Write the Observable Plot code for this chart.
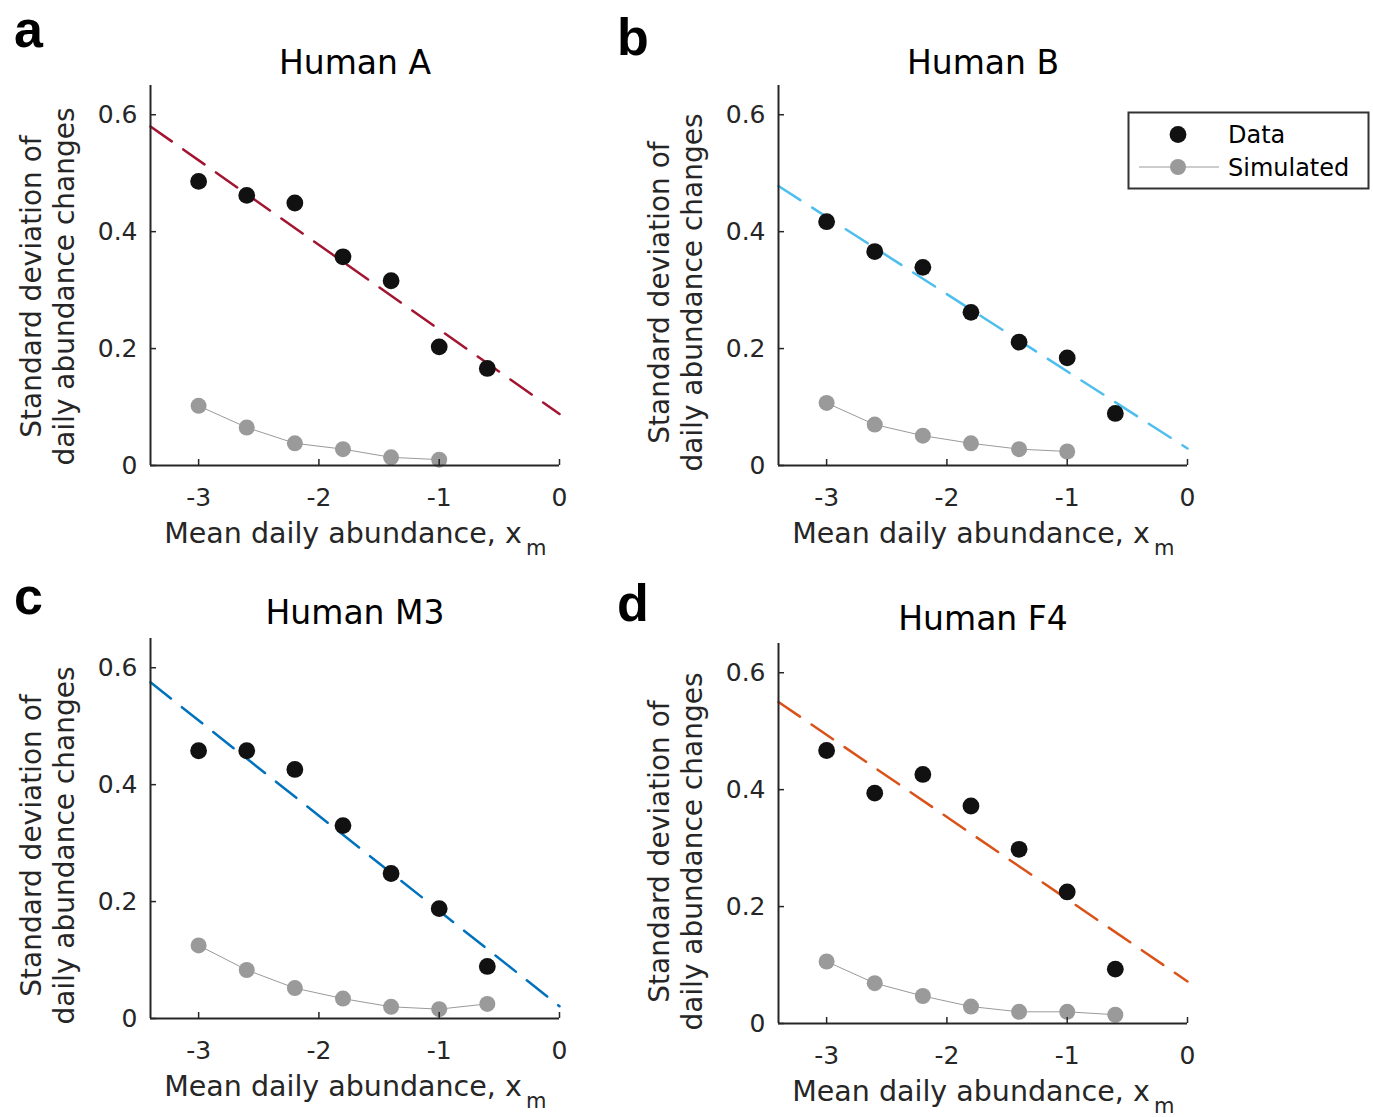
<!DOCTYPE html>
<html>
<head>
<meta charset="utf-8">
<script src="https://cdn.jsdelivr.net/npm/d3@7"></script>
<script src="https://cdn.jsdelivr.net/npm/@observablehq/plot@0.6"></script>
<style>
  body { margin: 0; background: #fff; }
  #fig { position: relative; width: 1373px; height: 1117px; overflow: hidden; background: #fff; }
  .panel { position: absolute; }
  .overlay { position: absolute; left: 0; top: 0; pointer-events: none; }
</style>
</head>
<body>
<div id="fig"></div>
<script>
// ---------- data ----------
const xValues = [-3, -2.6, -2.2, -1.8, -1.4, -1.0, -0.6];

const panelLetters = ["a", "b", "c", "d"];
const panelTitles = ["Human A", "Human B", "Human M3", "Human F4"];

const dataA = [0.486, 0.462, 0.449, 0.357, 0.316, 0.203, 0.166];
const simA  = [0.102, 0.065, 0.038, 0.028, 0.014, 0.010];
const fitA  = [0.580, 0.088];

const dataB = [0.417, 0.366, 0.339, 0.262, 0.211, 0.184, 0.089];
const simB  = [0.107, 0.070, 0.051, 0.038, 0.028, 0.024];
const fitB  = [0.478, 0.029];

const dataC = [0.458, 0.458, 0.426, 0.330, 0.248, 0.188, 0.089];
const simC  = [0.125, 0.083, 0.052, 0.034, 0.020, 0.016, 0.025];
const fitC  = [0.575, 0.021];

const dataD = [0.467, 0.394, 0.426, 0.372, 0.298, 0.225, 0.093];
const simD  = [0.106, 0.069, 0.047, 0.029, 0.020, 0.020, 0.015];
const fitD  = [0.550, 0.072];

const fitX = [-3.4, 0];
const fitColors = ["#A2142F", "#4DBEEE", "#0072BD", "#D95319"];

const xTicks = [-3, -2, -1, 0];
const yTicks = [0, 0.2, 0.4, 0.6];
const xDomain = [-3.4, 0];
const yDomain = [0, 0.65];

const xLabelMain = "Mean daily abundance, x";
const xLabelSub = "m";
const yLabelLine1 = "Standard deviation of";
const yLabelLine2 = "daily abundance changes";
const legendLabels = ["Data", "Simulated"];

// ---------- layout ----------
const panels = [
  {data: dataA, sim: simA, fit: fitA, left: 0,   top: 0,   titleDy: -12, ylDy: 11},
  {data: dataB, sim: simB, fit: fitB, left: 628, top: 0,   titleDy: -12, ylDy: 17},
  {data: dataC, sim: simC, fit: fitC, left: 0,   top: 553, titleDy: -15, ylDy: 17},
  {data: dataD, sim: simD, fit: fitD, left: 628, top: 558, titleDy: -14, ylDy: 18}
];

const W = 620, H = 560, mL = 150, mR = 61, mT = 85, mB = 95;
const innerW = W - mL - mR, innerH = H - mT - mB;
const axisColor = "#262626";
const FONT = "DejaVu Sans";

const fig = document.getElementById("fig");

panels.forEach((p, i) => {
  const pts = p.data.map((y, j) => ({x: xValues[j], y}));
  const sim = p.sim.map((y, j) => ({x: xValues[j], y}));
  const fit = p.fit.map((y, j) => ({x: fitX[j], y}));

  const chart = Plot.plot({
    width: W, height: H,
    marginLeft: mL, marginRight: mR, marginTop: mT, marginBottom: mB,
    x: {domain: xDomain},
    y: {domain: yDomain},
    style: {fontFamily: FONT, fontSize: "24px", color: axisColor, background: "transparent", overflow: "visible"},
    marks: [
      Plot.line(fit, {x: "x", y: "y", stroke: fitColors[i], strokeWidth: 2.5, strokeDasharray: "26,14"}),
      Plot.line(sim, {x: "x", y: "y", stroke: "#9a9a9a", strokeWidth: 1}),
      Plot.dot(sim, {x: "x", y: "y", r: 8, fill: "#9a9a9a"}),
      Plot.dot(pts, {x: "x", y: "y", r: 8.4, fill: "#111111"}),
      Plot.ruleX([xDomain[0]], {stroke: axisColor, strokeWidth: 2}),
      Plot.ruleY([yDomain[0]], {stroke: axisColor, strokeWidth: 2}),
      Plot.tickX(xTicks, {x: d => d, stroke: axisColor, strokeWidth: 1.5, insetTop: innerH - 6}),
      Plot.tickY(yTicks, {y: d => d, stroke: axisColor, strokeWidth: 1.5, insetRight: innerW - 6}),
      Plot.axisX({ticks: xTicks, tickSize: 0, tickPadding: 23, tickFormat: d => String(d), label: null, fontSize: 25}),
      Plot.axisY({ticks: yTicks, tickSize: 0, tickPadding: 13, tickFormat: d => String(d), label: null, fontSize: 25}),
      Plot.text([panelTitles[i]], {text: d => d, frameAnchor: "top", textAnchor: "middle", lineAnchor: "bottom", dy: p.titleDy, fontSize: 33, fill: "#000"}),
      Plot.text([xLabelMain], {text: d => d, frameAnchor: "bottom", textAnchor: "middle", lineAnchor: "bottom", dx: -12, dy: 77, fontSize: 28.5, fill: axisColor}),
      Plot.text([xLabelSub], {text: d => d, frameAnchor: "bottom", textAnchor: "start", lineAnchor: "bottom", dx: 171, dy: 89, fontSize: 21, fill: axisColor}),
      Plot.text([yLabelLine1], {text: d => d, frameAnchor: "left", textAnchor: "middle", rotate: -90, lineAnchor: "bottom", dx: -110, dy: p.ylDy, fontSize: 28, fill: axisColor}),
      Plot.text([yLabelLine2], {text: d => d, frameAnchor: "left", textAnchor: "middle", rotate: -90, lineAnchor: "bottom", dx: -77, dy: p.ylDy, fontSize: 28, fill: axisColor})
    ]
  });
  const wrap = document.createElement("div");
  wrap.className = "panel";
  wrap.style.left = p.left + "px";
  wrap.style.top = p.top + "px";
  wrap.appendChild(chart);
  fig.appendChild(wrap);
});

// ---------- overlay: panel letters and legend ----------
const overlay = d3.select(fig).append("svg")
  .attr("class", "overlay")
  .attr("width", 1373).attr("height", 1117);

const letterPos = [[14, 47], [617, 55], [14, 614], [617, 621]];
panelLetters.forEach((l, i) => {
  overlay.append("text")
    .attr("x", letterPos[i][0]).attr("y", letterPos[i][1])
    .attr("font-family", "Liberation Sans, Arial, sans-serif")
    .attr("font-weight", "bold").attr("font-size", 52).attr("fill", "#000")
    .text(l);
});

const lg = overlay.append("g");
lg.append("rect").attr("x", 1128.5).attr("y", 112.5).attr("width", 240).attr("height", 76)
  .attr("fill", "#fff").attr("stroke", "#333").attr("stroke-width", 2);
lg.append("circle").attr("cx", 1178).attr("cy", 134.5).attr("r", 8.4).attr("fill", "#111");
lg.append("line").attr("x1", 1139).attr("x2", 1219).attr("y1", 167).attr("y2", 167)
  .attr("stroke", "#9a9a9a").attr("stroke-width", 1);
lg.append("circle").attr("cx", 1178).attr("cy", 167).attr("r", 8).attr("fill", "#9a9a9a");
lg.selectAll("text.lab").data(legendLabels).join("text")
  .attr("class", "lab")
  .attr("x", 1228).attr("y", (d, i) => i === 0 ? 143 : 176)
  .attr("font-family", FONT).attr("font-size", 24).attr("fill", "#000")
  .text(d => d);
</script>
</body>
</html>
